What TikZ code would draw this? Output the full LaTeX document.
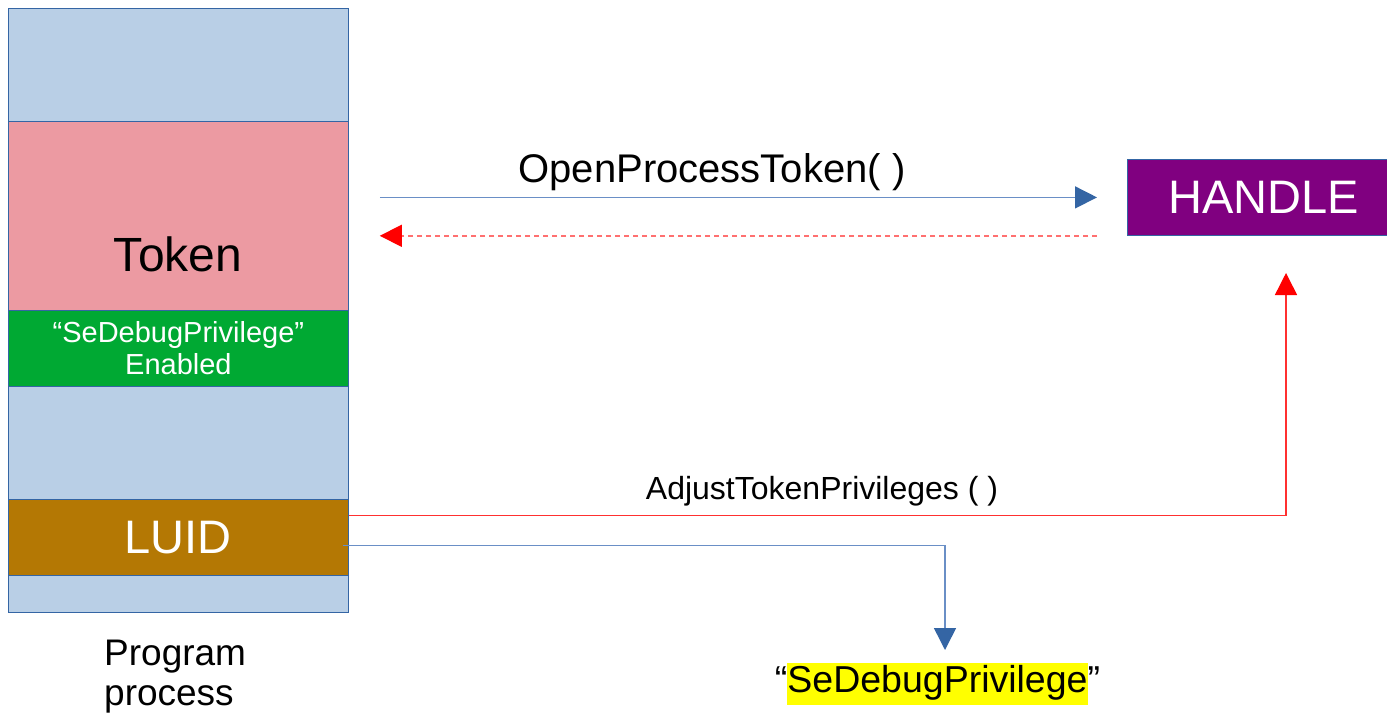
\documentclass[tikz,border=0pt]{standalone}
\usepackage{fontspec}
\setmainfont{Liberation Sans}
\usetikzlibrary{arrows.meta}
\definecolor{bandblue}{HTML}{B9CFE6}
\definecolor{bandpink}{HTML}{EC9AA2}
\definecolor{bandgreen}{HTML}{00A933}
\definecolor{bandbrown}{HTML}{B47804}
\definecolor{hpurple}{HTML}{800080}
\definecolor{edgeblue}{HTML}{3465A4}
\definecolor{lineblue}{HTML}{6A8FC6}
\definecolor{linered}{HTML}{FF3030}
\definecolor{dashred}{HTML}{FF7070}
\definecolor{hlyellow}{HTML}{FFFF00}
\begin{document}
\begin{tikzpicture}[x=1pt,y=-1pt,
  band/.style={draw=edgeblue,line width=0.8pt,minimum width=340pt,inner sep=0pt,anchor=north west},
  bluearrow/.style={draw=lineblue,line width=1.5pt,-{Triangle[length=22pt,width=22pt,color=edgeblue]}},
  redarrow/.style={draw=linered,line width=1.5pt,-{Triangle[length=22pt,width=22pt,color=red]}},
  reddash/.style={draw=dashred,line width=1.5pt,dash pattern=on 5pt off 4pt,-{Triangle[length=22pt,width=22pt,color=red]}},
  lbl/.style={inner sep=0pt}]
\fill[white] (0,0) rectangle (1387,713);
\useasboundingbox (0,0) rectangle (1387,713);
% column
\node[band,fill=bandblue,minimum height=113pt] (top) at (8,8) {};
\node[band,fill=bandpink,minimum height=189pt] (token) at (8,121) {};
\node[band,fill=bandgreen,minimum height=76pt,text=white,align=center,font=\fontsize{29}{32}\selectfont] (priv) at (8,310) {“SeDebugPrivilege”\\Enabled};
\node[band,fill=bandblue,minimum height=113pt] (mid) at (8,386) {};
\node[band,fill=bandbrown,minimum height=76pt,text=white,font=\fontsize{47}{50}\selectfont] (luid) at (8,499) {LUID};
\node[band,fill=bandblue,minimum height=37pt] (bottom) at (8,575) {};
\node[lbl,font=\fontsize{48}{52}\selectfont] (tokenlabel) at (178,254) {Token};
\node[lbl,anchor=north west,align=left,font=\fontsize{37}{40}\selectfont] (proglabel) at (104,640) {Program\\process};
% handle
\node[draw=edgeblue,line width=0.8pt,fill=hpurple,text=white,inner sep=0pt,minimum width=262pt,minimum height=76pt,anchor=north west,font=\fontsize{47}{50}\selectfont] (handle) at (1127,159) {\hspace*{10pt}HANDLE};
% SeDebugPrivilege
\node[lbl,font=\fontsize{37.5}{42}\selectfont] (sedebug) at (937.5,684) {“{\fboxsep=0pt\colorbox{hlyellow}{\strut SeDebugPrivilege}}”};
% labels
\node[lbl,font=\fontsize{40}{44}\selectfont] (opt) at (712,172) {OpenProcessToken( )};
\node[lbl,font=\fontsize{32}{36}\selectfont] (atp) at (822,491) {AdjustTokenPrivileges ( )};
% coordinates
\coordinate (hin) at (1286,273);
\coordinate (sin) at (945,650);
% arrows
\draw[bluearrow,shorten <=31pt,shorten >=30pt] (token.east|-handle.west) -- (handle.west);
\draw[reddash,shorten <=30pt,shorten >=31pt] (handle.south west) -- (token.east|-handle.south west);
\draw[redarrow] ([yshift=22pt]luid.east) -| (hin);
\draw[bluearrow] ([shift={(-6pt,-8pt)}]luid.east) -| (sin);
\end{tikzpicture}
\end{document}
